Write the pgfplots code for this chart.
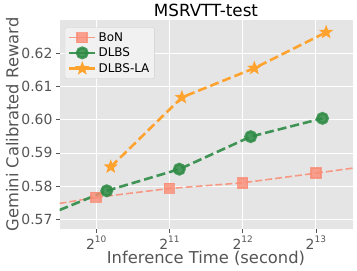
\documentclass[border=0pt]{standalone}
\usepackage{pgfplots}
\pgfplotsset{compat=1.18}
\usepackage{fontspec}
\setmainfont{DejaVu Sans}
\definecolor{bg}{HTML}{E5E5E5}
\definecolor{bon}{HTML}{FA8C74}
\definecolor{dlbs}{HTML}{2E8B45}
\definecolor{la}{HTML}{FFA22E}
\definecolor{tk}{HTML}{555555}
\pgfdeclareplotmark{fstar}{%
  \pgfpathmoveto{\pgfqpointpolar{90}{\pgfplotmarksize}}%
  \pgfpathlineto{\pgfqpointpolar{126}{0.42\pgfplotmarksize}}%
  \pgfpathlineto{\pgfqpointpolar{162}{\pgfplotmarksize}}%
  \pgfpathlineto{\pgfqpointpolar{198}{0.42\pgfplotmarksize}}%
  \pgfpathlineto{\pgfqpointpolar{234}{\pgfplotmarksize}}%
  \pgfpathlineto{\pgfqpointpolar{270}{0.42\pgfplotmarksize}}%
  \pgfpathlineto{\pgfqpointpolar{306}{\pgfplotmarksize}}%
  \pgfpathlineto{\pgfqpointpolar{342}{0.42\pgfplotmarksize}}%
  \pgfpathlineto{\pgfqpointpolar{18}{\pgfplotmarksize}}%
  \pgfpathlineto{\pgfqpointpolar{54}{0.42\pgfplotmarksize}}%
  \pgfpathclose
  \pgfusepathqfill}
\newcommand{\pw}[1]{2\raisebox{0.5em}{\fontsize{9}{9}\selectfont #1}}
\begin{document}
\begin{tikzpicture}
\begin{axis}[
  name=ax,
  at={(0,0)}, anchor=south west,
  scale only axis, width=293bp, height=209bp,
  xmode=log, log basis x=2,
  xmin=724, xmax=11585, ymin=0.5671, ymax=0.630,
  axis background/.style={fill=bg},
  axis line style={draw=none},
  grid=major, major grid style={white, line width=0.8pt},
  xtick={1024,2048,4096,8192},
  xticklabels={\pw{10},\pw{11},\pw{12},\pw{13}},
  ytick={0.57,0.58,0.59,0.60,0.61,0.62},
  yticklabel style={/pgf/number format/fixed, /pgf/number format/fixed zerofill, /pgf/number format/precision=2},
  /pgf/number format/assume math mode=true,
  tick label style={font=\fontsize{14}{16}\selectfont, text=tk},
  tick style={tk, line width=0.6pt},
  tick align=outside, major tick length=3.5bp,
  xtick pos=bottom, ytick pos=left,
  xlabel={Inference Time (second)},
  ylabel={Gemini Calibrated Reward},
  label style={font=\fontsize{16.4}{18}\selectfont, text=tk},
  xlabel style={yshift=5bp},
  ylabel style={yshift=-4bp},
  title={MSRVTT-test},
  title style={font=\fontsize{16.8}{18}\selectfont, yshift=-6bp},
  legend style={at={(0.018,0.965)}, anchor=north west, fill=white!45!bg, draw=white!82!black, rounded corners=2pt, font=\fontsize{12}{14}\selectfont, row sep=1pt, inner sep=3pt},
  legend cell align=left,
  legend image code/.code={\draw[mark repeat=2, mark phase=2, #1, solid] plot coordinates {(0bp,0bp) (13bp,0bp) (26bp,0bp)};},
  clip=true,
]
\addplot[bon, line width=1.6pt, dash pattern=on 7bp off 3bp, opacity=0.85, mark=square*, mark size=5bp, mark options={solid, fill=bon, opacity=0.8}]
  coordinates {(1024,0.5766) (2048,0.5793) (4096,0.5810) (8192,0.5839)};
\addlegendentry{BoN}
\addplot[dlbs, line width=2.6pt, dash pattern=on 9bp off 4bp, opacity=0.9, mark=*, mark size=5.2bp, mark options={solid, fill=dlbs, opacity=0.85}]
  coordinates {(1132,0.5786) (2250,0.5851) (4420,0.5949) (8720,0.6004)};
\addlegendentry{DLBS}
\addplot[la, line width=2.6pt, dash pattern=on 9bp off 4bp, mark=fstar, mark size=7.5bp, mark options={solid, fill=la}]
  coordinates {(1176,0.5858) (2304,0.6067) (4575,0.6155) (9027,0.6263)};
\addlegendentry{DLBS-LA}
\addplot[bon, line width=1.6pt, dash pattern=on 7bp off 3bp, opacity=0.85, forget plot]
  coordinates {(724,0.5748) (1024,0.5766)};
\addplot[bon, line width=1.6pt, dash pattern=on 7bp off 3bp, opacity=0.85, forget plot]
  coordinates {(8192,0.5839) (11585,0.5854)};
\addplot[dlbs, line width=2.6pt, dash pattern=on 9bp off 4bp, opacity=0.9, forget plot]
  coordinates {(724,0.5728) (1132,0.5786)};
\end{axis}
\pgfresetboundingbox
\path (ax.south west) ++(-59.5bp,-42bp) rectangle ++(357bp,271bp);
\end{tikzpicture}
\end{document}
